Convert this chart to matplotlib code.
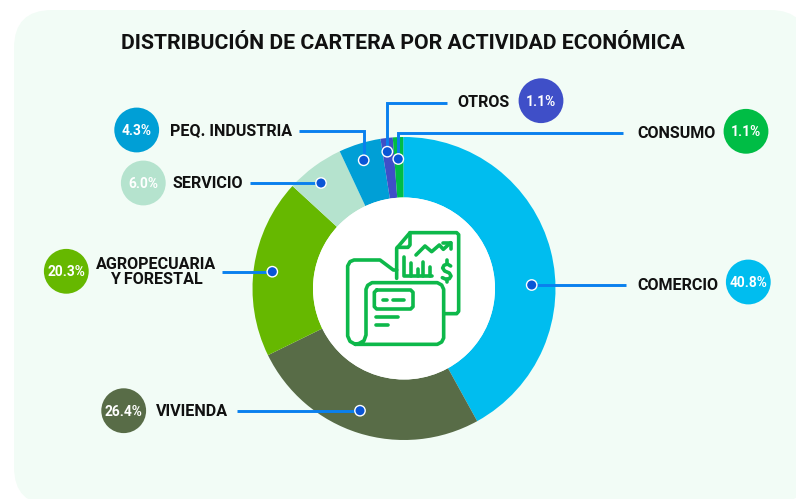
import matplotlib
matplotlib.use("Agg")
import matplotlib.pyplot as plt
from matplotlib.patches import FancyBboxPatch, Circle

# ---- data ----
categories = ["COMERCIO", "VIVIENDA", "AGROPECUARIA\nY FORESTAL", "SERVICIO",
              "PEQ. INDUSTRIA", "OTROS", "CONSUMO"]
printed_pct = [40.8, 26.4, 20.3, 6.0, 4.3, 1.1, 1.1]
# share of the ring each slice takes up as drawn
arc_share = [42.1, 25.8, 19.1, 6.2, 4.5, 1.3, 1.1]
title = "DISTRIBUCIÓN DE CARTERA POR ACTIVIDAD ECONÓMICA"

# ---- style and layout ----
slice_colors = ["#00BDEF", "#586C47", "#66B800", "#B5E3CE", "#009FD6", "#3F4FC8", "#00BD45"]
badge_text_colors = ["white"] * 7
W, H = 796, 499
CX, CY, R_OUT, R_IN = 404, 288.5, 151.5, 91
BG = "#F2FCF6"
LINE = "#0A80EE"
DOT = "#0A55D6"
ICON = "#0DB84A"
badge_xy = [(748.3, 282), (123.7, 410.7), (66.3, 271.3), (143.3, 183),
            (136.7, 130), (541, 100.7), (746, 131.3)]
dot_xy = [(531.7, 285), (360, 410.7), (272.3, 271.7), (321, 183),
          (363.7, 160.3), (387.3, 151.7), (398.3, 159)]
label_xy = [(677.5, 285.5), (191.5, 412), (156, 272), (207.5, 184),
            (231, 131), (483, 102), (676.5, 134)]
leader_paths = [
    [(531.7, 285), (626, 285)],
    [(237.3, 410.7), (360, 410.7)],
    [(221.7, 271.7), (272.3, 271.7)],
    [(250, 183), (321, 183)],
    [(299.3, 131), (363.7, 131), (363.7, 160.3)],
    [(447, 102.7), (387.3, 102.7), (387.3, 151.7)],
    [(622.7, 133), (398.3, 133), (398.3, 159)],
]

plt.rcParams["font.family"] = ["Roboto", "DejaVu Sans"]
fig = plt.figure(figsize=(W / 100, H / 100), dpi=100, facecolor="white")


def pixel_axes(zorder):
    ax = fig.add_axes([0, 0, 1, 1], zorder=zorder)
    ax.set_xlim(0, W)
    ax.set_ylim(H, 0)
    ax.axis("off")
    return ax


back = pixel_axes(0)
back.add_patch(FancyBboxPatch((14 + 38, 10 + 38), 808 - 14 - 76, 505 - 10 - 76,
                              boxstyle="round,pad=38,rounding_size=38",
                              fc=BG, ec="none"))

pie_ax = fig.add_axes([(CX - R_OUT) / W, 1 - (CY + R_OUT) / H,
                       2 * R_OUT / W, 2 * R_OUT / H], zorder=1)
pie_ax.pie(arc_share, colors=slice_colors, startangle=90.3, counterclock=False,
           radius=1, wedgeprops=dict(width=1 - R_IN / R_OUT, linewidth=0))
pie_ax.set_xlim(-1, 1)
pie_ax.set_ylim(-1, 1)
pie_ax.add_patch(Circle((0, 0), R_IN / R_OUT, fc="white", ec="none"))

top = pixel_axes(2)
top.patch.set_alpha(0)

top.text(403, 43.2, title, ha="center", va="center", fontsize=15.3,
         fontweight="bold", color="#111111")

for cat, pct, col, txt_col, bxy, dxy, lxy, path in zip(
        categories, printed_pct, slice_colors, badge_text_colors,
        badge_xy, dot_xy, label_xy, leader_paths):
    xs, ys = zip(*path)
    top.plot(xs, ys, color=LINE, lw=2.1, solid_capstyle="butt",
             solid_joinstyle="miter", zorder=3)
    top.add_patch(Circle(dxy, 5.2, fc=DOT, ec="white", lw=1.0, zorder=4))
    top.add_patch(Circle(bxy, 22.4, fc=col, ec="none", zorder=3))
    top.text(bxy[0], bxy[1] + 0.8, f"{pct:.1f}%", ha="center", va="center",
             fontsize=9.9, fontweight="bold", color=txt_col, zorder=5)
    top.text(lxy[0], lxy[1], cat, ha="center", va="center", fontsize=11.6,
             fontweight="bold", color="#111111", linespacing=0.95, zorder=5)


# ---- folder/report pictogram in the hole (coordinates of the 3x crop) ----
def stroke(*pts, lw=2.6):
    xs = [330 + p[0] / 3 for p in pts]
    ys = [210 + p[1] / 3 for p in pts]
    top.plot(xs, ys, color=ICON, lw=lw, solid_joinstyle="round",
             solid_capstyle="round", zorder=6)


stroke((200, 205), (200, 115), (240, 68), (380, 68), (386, 74), (386, 304),
       (380, 311), (345, 311))
stroke((240, 68), (240, 105), (234, 112), (202, 112))
stroke((200, 180), (190, 180), (150, 150), (72, 150), (60, 155), (53, 168),
       (53, 378), (60, 394), (76, 403), (88, 400), (102, 392), (108, 375),
       (108, 238), (113, 226), (126, 218), (322, 218), (335, 225), (341, 238),
       (341, 384), (335, 396), (322, 403), (76, 403))
stroke((140, 240), (242, 240), (249, 247), (249, 290), (242, 297), (140, 297),
       (133, 290), (133, 247), (140, 240))
stroke((160, 270), (170, 270))
stroke((190, 270), (222, 270))
stroke((138, 322), (203, 322))
stroke((138, 346), (175, 346))
stroke((222, 142), (222, 198), (305, 198))
stroke((243, 158), (243, 198))
stroke((263, 178), (263, 198))
stroke((280, 155), (280, 198))
stroke((300, 170), (300, 198))
stroke((258, 135), (285, 108), (305, 125), (328, 105), (340, 118), (362, 98))
stroke((340, 98), (362, 98), (362, 118))
stroke((362, 168), (352, 162), (342, 166), (338, 174), (344, 183), (358, 189),
       (363, 198), (358, 206), (348, 208), (337, 203))
stroke((350, 150), (350, 160))
stroke((350, 208), (350, 216))

fig.savefig("out.png", dpi=100)
